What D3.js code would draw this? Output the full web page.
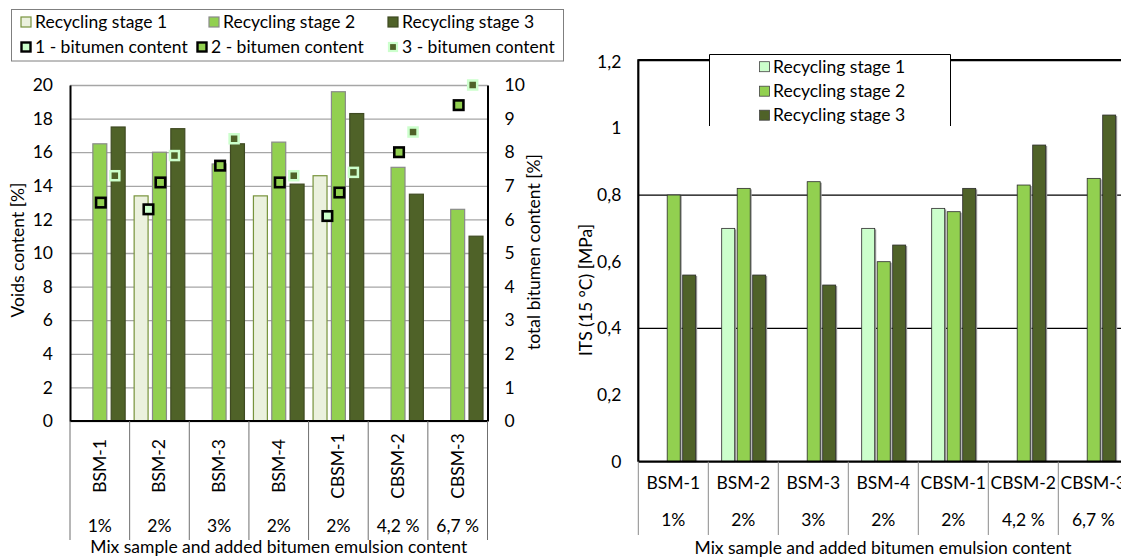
<!DOCTYPE html>
<html><head><meta charset="utf-8">
<script src="https://cdn.jsdelivr.net/npm/d3@7"></script>
<style>
html,body{margin:0;padding:0;background:#fff;}
svg{display:block;font-family:Lato,"Open Sans",sans-serif;}
</style></head>
<body>
<svg id="c" width="1121" height="558"></svg>
<script>
const categories = ["BSM-1","BSM-2","BSM-3","BSM-4","CBSM-1","CBSM-2","CBSM-3"];
const emulsion = ["1%","2%","3%","2%","2%","4,2 %","6,7 %"];
const voidsStage1 = [null,13.4,null,13.4,14.6,null,null];
const voidsStage2 = [16.5,16.0,15.3,16.6,19.6,15.1,12.6];
const voidsStage3 = [17.5,17.4,16.5,14.1,18.3,13.5,11.0];
const bitumen1 = [null,6.3,null,null,6.1,null,null];
const bitumen2 = [6.5,7.1,7.6,7.1,6.8,8.0,9.4];
const bitumen3 = [7.3,7.9,8.4,7.3,7.4,8.6,10.0];
const itsStage1 = [null,0.70,null,0.70,0.76,null,null];
const itsStage2 = [0.80,0.82,0.84,0.60,0.75,0.83,0.85];
const itsStage3 = [0.56,0.56,0.53,0.65,0.82,0.95,1.04];
const voidsTicks = [0,2,4,6,8,10,12,14,16,18,20];
const bitumenTicks = [0,1,2,3,4,5,6,7,8,9,10];
const itsTicks = [0,0.2,0.4,0.6,0.8,1.0,1.2];
const itsGrid = [0.4,0.8];
const stageNames = ["Recycling stage 1","Recycling stage 2","Recycling stage 3"];
const bitumenNames = ["1 - bitumen content","2 - bitumen content","3 - bitumen content"];

const svg = d3.select("#c");
const FS = 17.5;

// ---------------- LEFT CHART ----------------
const L = {left:70, right:487.5, top:85, bottom:421};
const xL = d3.scaleBand().domain(categories).range([L.left, L.right]).padding(0);
const xLin = d3.scaleBand().domain([0,1,2]).range([4.5, xL.bandwidth()-4.5]).paddingInner(0.24);
const yL = d3.scaleLinear().domain([0,20]).range([L.bottom, L.top]);
const yL2 = d3.scaleLinear().domain([0,10]).range([L.bottom, L.top]);

const gL = svg.append("g");
gL.append("g").call(d3.axisLeft(yL).tickValues(voidsTicks).tickSize(-(L.right-L.left)).tickFormat(""))
  .attr("transform",`translate(${L.left},0)`)
  .call(g=>{g.select(".domain").remove(); g.selectAll("line").attr("stroke","#a6a6a6").attr("stroke-width",1.3);});

const leftFills = ["#ebf1de","#92d050","#4f6228"];
const leftStrokes = ["#77933c","#8a8a8a","#3f4a22"];
const voidSeries = [voidsStage1, voidsStage2, voidsStage3];
voidSeries.forEach((ser, si)=>{
  gL.append("g").selectAll("rect").data(categories.map((c,i)=>({c, v:ser[i]})).filter(d=>d.v!=null))
    .join("rect")
    .attr("x", d=>xL(d.c)+xLin(si))
    .attr("width", xLin.bandwidth())
    .attr("y", d=>yL(d.v))
    .attr("height", d=>yL(0)-yL(d.v))
    .attr("fill", leftFills[si]).attr("stroke", leftStrokes[si]).attr("stroke-width",1.2);
});

const axL = gL.append("g").attr("transform",`translate(${L.left},0)`)
  .call(d3.axisLeft(yL).tickValues(voidsTicks).tickSize(0).tickPadding(17));
axL.select(".domain").attr("stroke","#000").attr("stroke-width",2);
axL.selectAll("text").attr("font-size",FS).attr("fill","#000").attr("font-family","Lato");
const axR = gL.append("g").attr("transform",`translate(${L.right},0)`)
  .call(d3.axisRight(yL2).tickValues(bitumenTicks).tickSize(0).tickPadding(17));
axR.select(".domain").attr("stroke","#000").attr("stroke-width",2);
axR.selectAll("text").attr("font-size",FS).attr("fill","#000").attr("font-family","Lato");
gL.append("line").attr("x1",L.left).attr("x2",L.right).attr("y1",yL(0)).attr("y2",yL(0)).attr("stroke","#000").attr("stroke-width",2);

// bitumen markers
const markerOffsets = [-11, 1, 15];
const bitSeries = [bitumen1, bitumen2, bitumen3];
const bitFill = ["#ccffcc","#92d050","#4f6228"];
const bitStroke = ["#000","#000","#ccffcc"];
const bitSize = [9.5, 9.5, 9];
const bitSW = [2.6, 2.6, 2.5];
bitSeries.forEach((ser, si)=>{
  gL.append("g").selectAll("rect").data(categories.map((c,i)=>({c, v:ser[i]})).filter(d=>d.v!=null))
    .join("rect")
    .attr("x", d=>xL(d.c)+xL.bandwidth()/2+markerOffsets[si]-bitSize[si]/2)
    .attr("y", d=>yL2(d.v)-bitSize[si]/2)
    .attr("width", bitSize[si]).attr("height", bitSize[si])
    .attr("fill", bitFill[si]).attr("stroke", bitStroke[si]).attr("stroke-width", bitSW[si]);
});

const sepL = xL.domain().map(c=>xL(c)).concat([L.right]);
gL.append("g").selectAll("line").data(sepL).join("line")
  .attr("x1",d=>d).attr("x2",d=>d).attr("y1",L.bottom).attr("y2",540)
  .attr("stroke","#6f6f6f").attr("stroke-width",1);
gL.append("g").selectAll("text").data(categories).join("text")
  .attr("transform", d=>`translate(${xL(d)+xL.bandwidth()/2+6},466) rotate(-90)`)
  .attr("text-anchor","middle").attr("font-size",FS).text(d=>d);
gL.append("g").selectAll("text").data(categories).join("text")
  .attr("x", (d)=>xL(d)+xL.bandwidth()/2).attr("y",532)
  .attr("text-anchor","middle").attr("font-size",FS).text((d,i)=>emulsion[i]);
gL.append("text").attr("x",(L.left+L.right)/2).attr("y",553).attr("text-anchor","middle")
  .attr("font-size",FS).text("Mix sample and added bitumen emulsion content");
gL.append("text").attr("transform","translate(24,250) rotate(-90)").attr("text-anchor","middle")
  .attr("font-size",FS).text("Voids content [%]");
gL.append("text").attr("transform","translate(540,252) rotate(-90)").attr("text-anchor","middle")
  .attr("font-size",FS).text("total bitumen content [%]");

// left legend
const lg = svg.append("g");
lg.append("rect").attr("x",11.5).attr("y",9.5).attr("width",552).attr("height",51.5)
  .attr("fill","#fff").attr("stroke","#7f7f7f").attr("stroke-width",1);
const legStagePos = [[21,22],[209,22],[388,22]];
const legBitPos = [[21,47],[197,47],[388,47]];
stageNames.forEach((n,i)=>{
  const [x,y]=legStagePos[i];
  lg.append("rect").attr("x",x).attr("y",y-5).attr("width",10).attr("height",10)
    .attr("fill",leftFills[i]).attr("stroke",leftStrokes[i]).attr("stroke-width",1.2);
  lg.append("text").attr("x",x+14).attr("y",y).attr("dy","0.35em").attr("font-size",FS).text(n);
});
bitumenNames.forEach((n,i)=>{
  const [x,y]=legBitPos[i];
  const s = i===2?8:9;
  lg.append("rect").attr("x",x+5-s/2).attr("y",y-s/2).attr("width",s).attr("height",s)
    .attr("fill",bitFill[i]).attr("stroke",bitStroke[i]).attr("stroke-width",i===2?2.2:2.4);
  lg.append("text").attr("x",x+14).attr("y",y).attr("dy","0.35em").attr("font-size",FS).text(n);
});

// ---------------- RIGHT CHART ----------------
const R = {left:638.3, top:61.7, bottom:461.7};
const xR = d3.scaleBand().domain(categories).range([R.left, R.left+7*70]).padding(0);
const xRin = d3.scaleBand().domain([0,1,2]).range([13.4, 57.4]).paddingInner(0.16);
const yR = d3.scaleLinear().domain([0,1.2]).range([R.bottom, R.top]);
const gR = svg.append("g");
gR.append("g").selectAll("line").data(itsGrid).join("line")
  .attr("x1",R.left).attr("x2",1130).attr("y1",d=>yR(d)).attr("y2",d=>yR(d))
  .attr("stroke","#000").attr("stroke-width",1.2);

const rightFills = ["#ccffcc","#92d050","#4f6228"];
const itsSeries = [itsStage1, itsStage2, itsStage3];
itsSeries.forEach((ser, si)=>{
  const data = categories.map((c,i)=>({c, v:ser[i]})).filter(d=>d.v!=null);
  const g = gR.append("g");
  g.selectAll("rect.sh").data(data).join("rect").attr("class","sh")
    .attr("x", d=>xR(d.c)+xRin(si)+1.5).attr("width", xRin.bandwidth())
    .attr("y", d=>yR(d.v)+1).attr("height", d=>yR(0)-yR(d.v)-1)
    .attr("fill","#9a9a9a");
  g.selectAll("rect.b").data(data).join("rect").attr("class","b")
    .attr("x", d=>xR(d.c)+xRin(si)).attr("width", xRin.bandwidth())
    .attr("y", d=>yR(d.v)).attr("height", d=>yR(0)-yR(d.v))
    .attr("fill", rightFills[si]).attr("stroke","#2a2a2a").attr("stroke-width",0.8);
});
gR.append("line").attr("x1",R.left).attr("x2",R.left).attr("y1",R.top-2.5).attr("y2",R.bottom).attr("stroke","#000").attr("stroke-width",2.2);
gR.append("line").attr("x1",R.left).attr("x2",1130).attr("y1",R.bottom).attr("y2",R.bottom).attr("stroke","#000").attr("stroke-width",2.2);
gR.append("line").attr("x1",R.left).attr("x2",1130).attr("y1",R.top-1.5).attr("y2",R.top-1.5).attr("stroke","#000").attr("stroke-width",2.2);
const axRY = gR.append("g").attr("transform",`translate(${R.left},0)`)
  .call(d3.axisLeft(yR).tickValues(itsTicks).tickSize(0).tickPadding(17)
    .tickFormat(d=>d3.format(".1f")(d).replace(".0","").replace(".",",")));
axRY.select(".domain").remove();
axRY.selectAll("text").attr("font-size",FS).attr("fill","#000").attr("font-family","Lato");

const sepR = xR.domain().map(c=>xR(c)).concat([R.left+7*70]);
gR.append("g").selectAll("line").data(sepR).join("line")
  .attr("x1",d=>d).attr("x2",d=>d).attr("y1",R.bottom).attr("y2",535)
  .attr("stroke","#8a8a8a").attr("stroke-width",1);
gR.append("g").selectAll("text").data(categories).join("text")
  .attr("x", d=>xR(d)+xR.bandwidth()/2).attr("y",489).attr("text-anchor","middle")
  .attr("font-size",FS).text(d=>d);
gR.append("g").selectAll("text").data(categories).join("text")
  .attr("x", d=>xR(d)+xR.bandwidth()/2).attr("y",526).attr("text-anchor","middle")
  .attr("font-size",FS).text((d,i)=>emulsion[i]);
gR.append("text").attr("x",883).attr("y",554).attr("text-anchor","middle")
  .attr("font-size",FS).text("Mix sample and added bitumen emulsion content");
gR.append("text").attr("transform","translate(592,290) rotate(-90)").attr("text-anchor","middle")
  .attr("font-size",FS).text("ITS (15 °C)  [MPa]");

// right legend
const rg = svg.append("g");
rg.append("rect").attr("x",709.5).attr("y",54.5).attr("width",241).attr("height",80).attr("fill","#fff").attr("stroke","none");
rg.append("path").attr("d","M709.5,126 V54.5 H950.5 V126").attr("fill","none").attr("stroke","#000").attr("stroke-width",1);
stageNames.forEach((n,i)=>{
  const y = [66.7,91.2,115.2][i];
  rg.append("rect").attr("x",759.5).attr("y",y-5).attr("width",10).attr("height",10)
    .attr("fill",rightFills[i]).attr("stroke","#444").attr("stroke-width",0.8);
  rg.append("text").attr("x",773).attr("y",y).attr("dy","0.35em").attr("font-size",FS).text(n);
});
</script>
</body></html>
